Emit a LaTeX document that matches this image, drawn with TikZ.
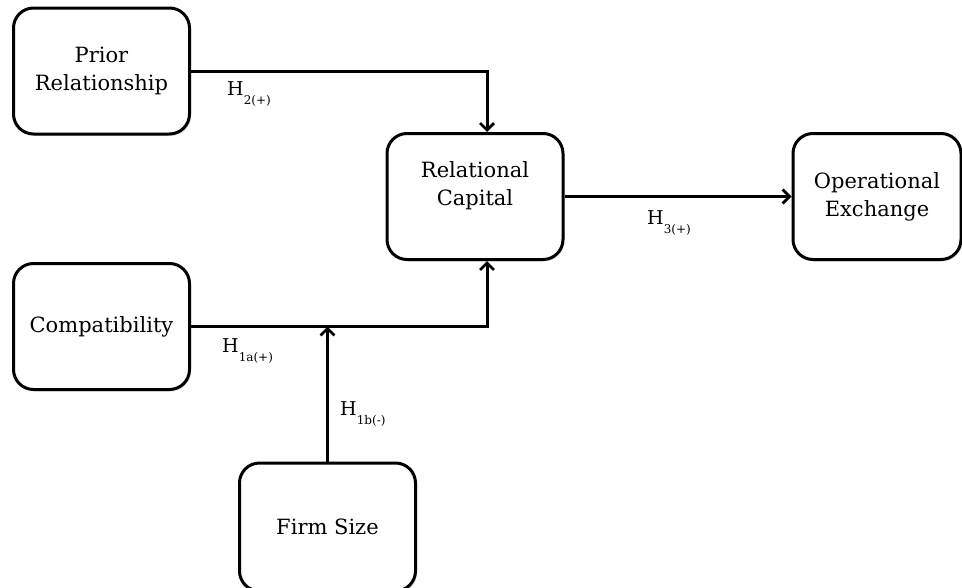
\documentclass[tikz,border=0pt]{standalone}
\usepackage{fontspec}
\setmainfont{DejaVu Serif}
\usetikzlibrary{arrows.meta,shadows}
\newcommand{\hyplabel}[2]{{\fontsize{19}{22}\selectfont #1}\raisebox{-9pt}{\fontsize{12}{14}\selectfont #2}}
\begin{document}
\begin{tikzpicture}[x=1pt,y=-1pt,
  box/.style={draw=black, line width=3pt, rounded corners=20pt, fill=white,
    minimum width=176pt, minimum height=126pt, align=center, inner sep=0pt,
    font=\fontsize{21}{28}\selectfont,
    drop shadow={opacity=0.22, shadow xshift=1.5pt, shadow yshift=-2pt}},
  conn/.style={draw=black, line width=3pt},
  arr/.style={conn, -{Straight Barb[length=7pt,width=14pt,line width=2.8pt]}},
  hyp/.style={anchor=base west, inner sep=0pt}
]
\useasboundingbox (0,0) rectangle (962,587);
\node[box] (prior) at (101.5,71) {Prior\\Relationship};
\node[box] (compat) at (101.5,326.5) {Compatibility};
\node[box] (rc) at (475,196.5) {};
\node[align=center, font=\fontsize{21}{28}\selectfont, inner sep=0pt] (rctext) at (475,186) {Relational\\Capital};
\node[box, minimum width=168pt] (oe) at (877,196.5) {Operational\\Exchange};
\node[box, minimum height=128pt] (fs) at (327.5,527) {Firm Size};

\draw[arr] (prior.east) -| ([xshift=12pt]rc.north);
\draw[arr] (compat.east) -| ([xshift=12pt]rc.south);
\draw[arr] (fs.north) -- (fs.north |- compat.east);
\draw[arr] (rc.east) -- (oe.west);

\node[hyp] (h2) at (227,95) {\hyplabel{H}{2(+)}};
\node[hyp] (h1a) at (222,352) {\hyplabel{H}{1a(+)}};
\node[hyp] (h1b) at (340,415) {\hyplabel{H}{1b(-)}};
\node[hyp] (h3) at (647,224) {\hyplabel{H}{3(+)}};
\end{tikzpicture}
\end{document}
